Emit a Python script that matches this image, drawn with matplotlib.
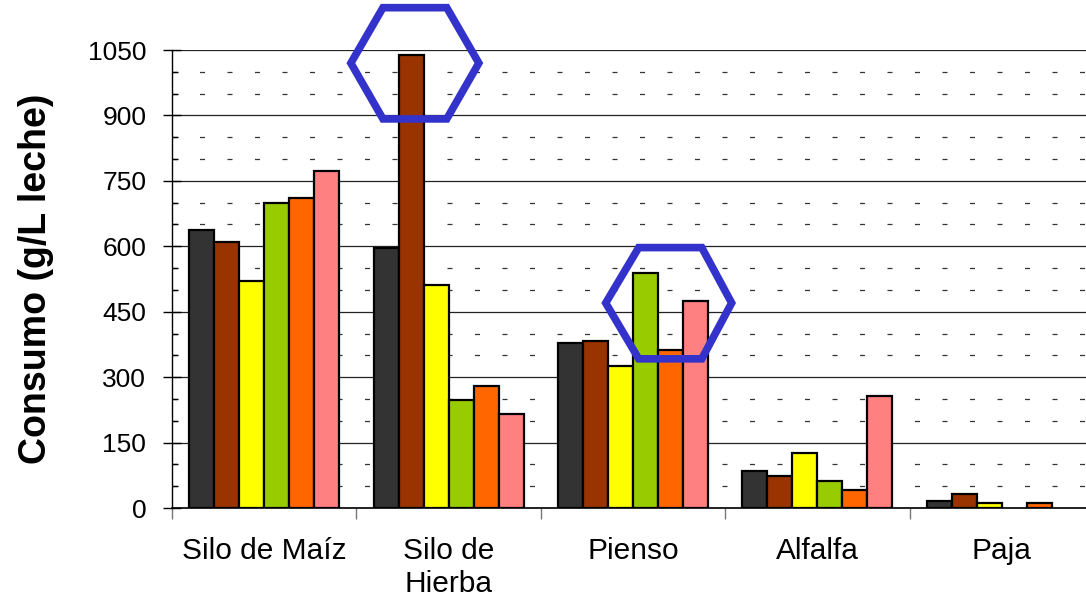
import numpy as np
import matplotlib
matplotlib.use("Agg")
import matplotlib.pyplot as plt
from matplotlib.patches import Polygon
from matplotlib.ticker import MultipleLocator, FixedLocator

plt.rcParams['font.family'] = ['Liberation Sans', 'DejaVu Sans']

categories = ["Silo de Maíz", "Silo de\nHierba", "Pienso", "Alfalfa", "Paja"]
s1 = [637, 596, 378, 85, 16]
s2 = [610, 1038, 383, 73, 32]
s3 = [520, 511, 326, 126, 11]
s4 = [699, 248, 539, 62, np.nan]
s5 = [711, 280, 362, 41, 11]
s6 = [773, 215, 475, 257, np.nan]
series = [s1, s2, s3, s4, s5, s6]
colors = ["#333333", "#993300", "#FFFF00", "#99CC00", "#FF6600", "#FF8080"]
yticks = [0, 150, 300, 450, 600, 750, 900, 1050]

# highlight hexagons (category units, value units)
hex1_x = [0.470, 0.644, 0.990, 1.164, 0.990, 0.644]
hex1_y = [1020, 1147, 1147, 1020, 892, 892]
hex2_x = [1.852, 2.031, 2.373, 2.535, 2.373, 2.031]
hex2_y = [470, 597, 597, 470, 342, 342]

fig = plt.figure(figsize=(10.86, 6.02), dpi=100)
ax = fig.add_axes([172/1086, (602-508)/602, 922/1086, 458/602])

x = np.arange(len(categories))
bw = 0.1355
n = len(series)
for i, (vals, c) in enumerate(zip(series, colors)):
    ax.bar(x + (i - (n-1)/2) * bw, vals, width=bw, color=c,
           edgecolor="black", linewidth=1.6, zorder=3)

ax.set_xlim(-0.5, 4.5)
ax.set_ylim(0, 1050)
ax.set_yticks(yticks)
ax.yaxis.set_minor_locator(MultipleLocator(50))
ax.set_xticks(x)
ax.set_xticklabels(categories, fontsize=21.5)
ax.xaxis.set_minor_locator(FixedLocator(np.arange(-0.5, 5, 1.0)))

ax.tick_params(axis='x', which='major', length=0, pad=21)
ax.tick_params(axis='x', which='minor', length=8, width=1, color='#777777', direction='out')
ax.tick_params(axis='y', which='major', length=13, width=1, direction='inout', labelsize=19, pad=12)
ax.tick_params(axis='y', which='minor', length=4, width=1, direction='in')

ax.grid(axis='y', which='major', color='#222222', linewidth=0.9, zorder=0)
ax.grid(axis='y', which='minor', color='#333333', linewidth=0.9,
        linestyle=(0, (4, 18)), zorder=0)
ax.set_axisbelow(True)

for s in ['top', 'right']:
    ax.spines[s].set_visible(False)
ax.spines['left'].set_linewidth(1)
ax.spines['bottom'].set_linewidth(1.2)

ax.set_ylabel("Consumo (g/L leche)", fontsize=27, fontweight='bold')
ax.yaxis.set_label_coords(-0.128, 0.5)

for hx, hy in [(hex1_x, hex1_y), (hex2_x, hex2_y)]:
    poly = Polygon(np.column_stack([hx, hy]), closed=True, fill=False,
                   edgecolor="#3333CC", linewidth=5.5, zorder=5, clip_on=False,
                   joinstyle='miter')
    ax.add_patch(poly)

fig.savefig("out.png", dpi=100)
